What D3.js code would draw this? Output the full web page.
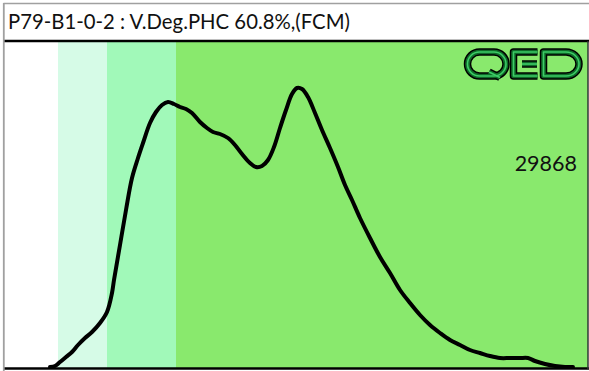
<!DOCTYPE html>
<html><head><meta charset="utf-8">
<script src="https://cdn.jsdelivr.net/npm/d3@7"></script>
<style>html,body{margin:0;padding:0;background:#fff;}svg{display:block;}</style>
</head><body>
<svg id="c" width="589" height="371"></svg>
<script>
const titleText = "P79-B1-0-2 : V.Deg.PHC 60.8%,(FCM)";
const totalCount = "29868";
// gate bands (channel units)
const bandEdges = [0, 53, 102, 171, 583];
const bandColors = ["#ffffff", "#d6fbe7", "#a1f9b9", "#89e96d"];
// histogram (channel, count)
const channels = [45,50,55,61,67,73,80,87,95,102,107,109,115,121,127,133,138,145,151,157,163,169,175,181,187,195,202,208,215,223,230,237,245,251,257,263,269,275,281,287,292,297,303,310,317,325,333,340,347,355,365,375,385,395,405,415,425,435,445,455,465,475,485,495,505,515,523,530,540,550,560,568];
const counts   = [0,1,5,10,15,22,29,35,44,55,74,87,122,157,189,209,224,244,255,262,265,263,260,258,254,245,239,235,233,229,222,213,204,200,201,207,220,239,257,273,279,278,270,254,237,219,200,182,167,149,129,110,94,77,64,52,42,34,27,22,17,14,11,9,9,9,9,6,3,1,0,0];

const svg = d3.select("#c");
const L = 5, R = 587, T = 42, B = 367;
const x = d3.scaleLinear().domain([0, 582]).range([L, R]);
const y = d3.scaleLinear().domain([0, 325]).range([B, T]);

// bands
svg.selectAll("rect.band").data(bandColors).enter().append("rect")
  .attr("x", (d,i)=>x(bandEdges[i])).attr("y", T)
  .attr("width", (d,i)=>x(bandEdges[i+1]) - x(bandEdges[i]))
  .attr("height", B - T + 1).attr("fill", d=>d);

// curve
const pts = channels.map((c,i)=>[c, counts[i]]);
svg.append("path").datum(pts)
  .attr("d", d3.line().x(d=>x(d[0])).y(d=>y(d[1])).curve(d3.curveCatmullRom.alpha(0.5)))
  .attr("fill","none").attr("stroke","#000").attr("stroke-width",4)
  .attr("stroke-linejoin","round").attr("stroke-linecap","round");

// frame
svg.append("line").attr("x1",4).attr("x2",589).attr("y1",41).attr("y2",41).attr("stroke","#000").attr("stroke-width",2.5);
svg.append("line").attr("x1",4).attr("x2",589).attr("y1",368.5).attr("y2",368.5).attr("stroke","#000").attr("stroke-width",2.5);
svg.append("line").attr("x1",588).attr("x2",588).attr("y1",41).attr("y2",369).attr("stroke","#333").attr("stroke-width",1.5);
svg.append("line").attr("x1",3.5).attr("x2",589).attr("y1",3.5).attr("y2",3.5).attr("stroke","#a0a0a0").attr("stroke-width",1.5);
svg.append("line").attr("x1",3.8).attr("x2",3.8).attr("y1",3).attr("y2",371).attr("stroke","#a0a0a0").attr("stroke-width",1.8);

// title
const t = svg.append("text").attr("x",8).attr("y",29).attr("font-family","Lato, 'Open Sans', sans-serif")
  .attr("font-size",18).attr("fill","#111").text(titleText);
const w = t.node().getComputedTextLength();
t.attr("font-size", 18 * 342 / w);

// count
svg.append("text").attr("x",577).attr("y",171).attr("text-anchor","end")
  .attr("font-family","Lato, 'Open Sans', sans-serif").attr("font-size",21.5).attr("fill","#111").text(totalCount);

// QED logo
const logo = svg.append("g");
const paths = [
  "M479.5,52 H494 A12,12 0 0 1 506,64 V64 A12,12 0 0 1 494,76 H479.5 A12,12 0 0 1 467.5,64 V64 A12,12 0 0 1 479.5,52 Z",
  "M489,72 L500,77.5",
  "M537.5,52 H513.5 V76 H537.5",
  "M522,64 H537",
  "M543.5,52 H566 A13,12 0 0 1 579,64 A13,12 0 0 1 566,76 H543.5 Z"
];
[["#000",7.5],["#0f6a28",4.6],["#3ccd66",1.6]].forEach(([c,wd])=>{
  paths.forEach(p=>logo.append("path").attr("d",p).attr("fill","none").attr("stroke",c).attr("stroke-width",wd).attr("stroke-linejoin","round"));
});
</script>
</body></html>
